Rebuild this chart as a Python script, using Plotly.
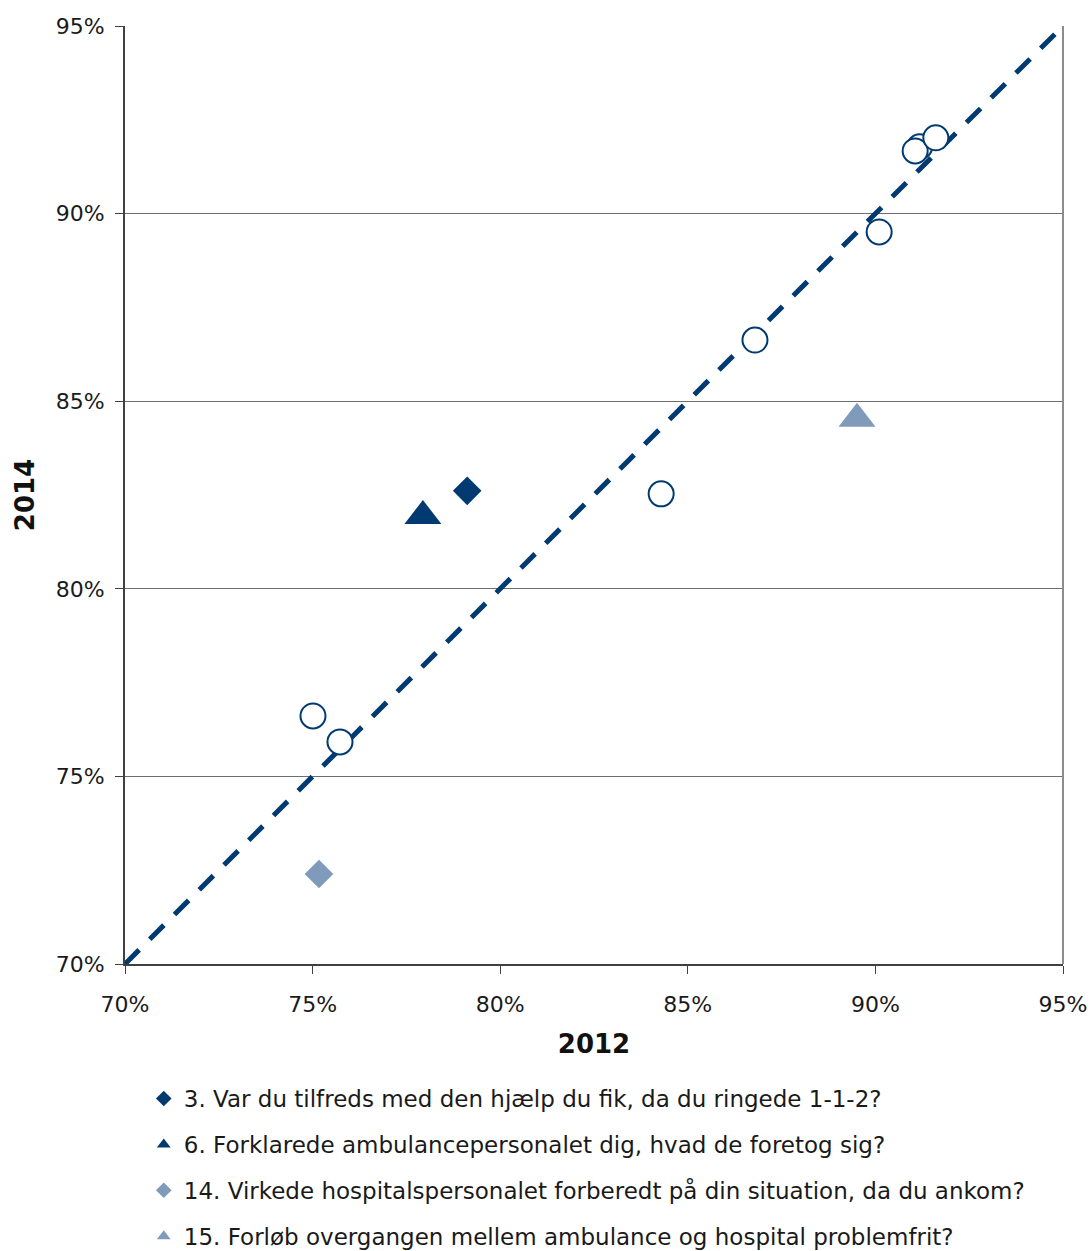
import plotly.graph_objects as go

# Share of positive answers per question, 2012 vs 2014
other_2012 = [0.7501, 0.7573, 0.8429, 0.8679, 0.9010, 0.9118, 0.9106, 0.9161]
other_2014 = [0.7661, 0.7592, 0.8253, 0.8663, 0.8951, 0.9178, 0.9167, 0.9202]

q3_2012, q3_2014 = [0.7912], [0.8261]
q6_2012, q6_2014 = [0.7794], [0.8194]
q14_2012, q14_2014 = [0.7517], [0.7240]
q15_2012, q15_2014 = [0.8951], [0.8453]

q_labels = [
    "3. Var du tilfreds med den hjælp du fik, da du ringede 1-1-2?",
    "6. Forklarede ambulancepersonalet dig, hvad de foretog sig?",
    "14. Virkede hospitalspersonalet forberedt på din situation, da du ankom?",
    "15. Forløb overgangen mellem ambulance og hospital problemfrit?",
]

diag = [0.70, 0.95]
ticks = [0.70, 0.75, 0.80, 0.85, 0.90, 0.95]

DARK = "#003a70"
LIGHT = "#7f9aba"
FONT = "DejaVu Sans"

fig = go.Figure()

# Reference line: equal share in both years
fig.add_trace(go.Scatter(
    x=diag, y=diag, mode="lines", showlegend=False, hoverinfo="skip",
    line=dict(color=DARK, width=5, dash="20px,15px"),
))

fig.add_trace(go.Scatter(
    x=other_2012, y=other_2014, mode="markers", showlegend=False,
    marker=dict(symbol="circle", size=25, color="white",
                line=dict(color=DARK, width=2)),
))

series = [
    (q3_2012, q3_2014, "diamond", DARK, 22, q_labels[0]),
    (q6_2012, q6_2014, "triangle-up", DARK, 32, q_labels[1]),
    (q14_2012, q14_2014, "diamond", LIGHT, 22, q_labels[2]),
    (q15_2012, q15_2014, "triangle-up", LIGHT, 32, q_labels[3]),
]
for i, (xs, ys, sym, col, sz, name) in enumerate(series):
    fig.add_trace(go.Scatter(
        x=xs, y=ys, mode="markers", name=name, legendgroup=f"g{i}",
        marker=dict(symbol=sym, size=sz, color=col, line=dict(width=0)),
    ))

axis_common = dict(
    range=[0.70, 0.95], tickvals=ticks, tickformat=".0%",
    showline=True, linecolor="#404040", linewidth=2,
    ticks="outside", ticklen=8, tickcolor="#404040",
    tickfont=dict(family=FONT, size=22, color="#1a1a1a"),
    zeroline=False, automargin=False,
)

fig.update_xaxes(
    **axis_common, showgrid=False, ticklabelstandoff=12, tickangle=0,
    title=dict(text="<b>2012</b>", font=dict(family=FONT, size=26, color="#111"),
               standoff=18),
)
fig.update_yaxes(
    **axis_common, showgrid=True, gridcolor="#6e6e6e", gridwidth=1,
    ticklabelstandoff=6,
    title=dict(text="<b>2014</b>", font=dict(family=FONT, size=26, color="#111"),
               standoff=14),
)

# Plot-area frame on the right side
fig.add_shape(type="line", xref="paper", yref="paper", x0=1, x1=1, y0=0, y1=1,
              line=dict(color="#8c8c8c", width=2))

fig.update_layout(
    width=1091, height=1251,
    margin=dict(l=125, r=28, t=26, b=287, autoexpand=False),
    paper_bgcolor="white", plot_bgcolor="white",
    font=dict(family=FONT, color="#1a1a1a"),
    legend=dict(
        x=0.02, y=-0.1205,
        xanchor="left", yanchor="top",
        font=dict(family=FONT, size=23, color="#1a1a1a"),
        tracegroupgap=13, itemsizing="constant", itemwidth=30,
        bgcolor="rgba(0,0,0,0)",
    ),
)

fig.write_html("out.html")
